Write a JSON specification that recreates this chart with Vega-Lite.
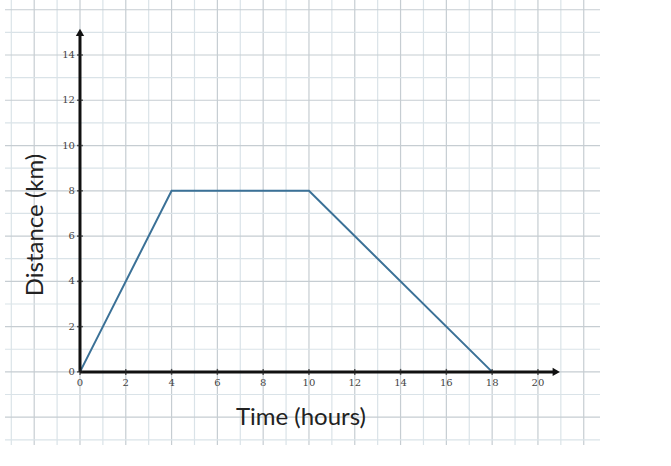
{
  "$schema": "https://vega.github.io/schema/vega-lite/v6.json",
  "autosize": "none",
  "width": 595,
  "height": 445,
  "padding": {"left": 5, "top": 0, "right": 0, "bottom": 0},
  "background": "white",
  "config": {"view": {"stroke": null}},
  "datasets": {
    "path": [
      {"x": 0, "y": 0},
      {"x": 4, "y": 8},
      {"x": 10, "y": 8},
      {"x": 18, "y": 0}
    ],
    "vgrid": [
      {"x": -3}, {"x": -2}, {"x": -1}, {"x": 0}, {"x": 1}, {"x": 2}, {"x": 3}, {"x": 4}, {"x": 5}, {"x": 6},
      {"x": 7}, {"x": 8}, {"x": 9}, {"x": 10}, {"x": 11}, {"x": 12}, {"x": 13}, {"x": 14}, {"x": 15}, {"x": 16},
      {"x": 17}, {"x": 18}, {"x": 19}, {"x": 20}, {"x": 21}, {"x": 22}
    ],
    "hgrid": [
      {"y": -3}, {"y": -2}, {"y": -1}, {"y": 0}, {"y": 1}, {"y": 2}, {"y": 3}, {"y": 4}, {"y": 5}, {"y": 6},
      {"y": 7}, {"y": 8}, {"y": 9}, {"y": 10}, {"y": 11}, {"y": 12}, {"y": 13}, {"y": 14}, {"y": 15}, {"y": 16}
    ],
    "axislines": [
      {"x": 0, "y": 0, "x2": 0, "y2": 15.0},
      {"x": 0, "y": 0, "x2": 20.8, "y2": 0}
    ],
    "arrows": [
      {"x": 0, "y": 15.0, "shape": "triangle-up"},
      {"x": 20.8, "y": 0, "shape": "triangle-right"}
    ],
    "xlabels": [
      {"x": 0, "y": 0, "label": "0"},
      {"x": 2, "y": 0, "label": "2"},
      {"x": 4, "y": 0, "label": "4"},
      {"x": 6, "y": 0, "label": "6"},
      {"x": 8, "y": 0, "label": "8"},
      {"x": 10, "y": 0, "label": "10"},
      {"x": 12, "y": 0, "label": "12"},
      {"x": 14, "y": 0, "label": "14"},
      {"x": 16, "y": 0, "label": "16"},
      {"x": 18, "y": 0, "label": "18"},
      {"x": 20, "y": 0, "label": "20"}
    ],
    "ylabels": [
      {"x": 0, "y": 0, "label": "0"},
      {"x": 0, "y": 2, "label": "2"},
      {"x": 0, "y": 4, "label": "4"},
      {"x": 0, "y": 6, "label": "6"},
      {"x": 0, "y": 8, "label": "8"},
      {"x": 0, "y": 10, "label": "10"},
      {"x": 0, "y": 12, "label": "12"},
      {"x": 0, "y": 14, "label": "14"}
    ],
    "titles": [
      {"x": 9.65, "y": -2.03, "label": "Time (hours)", "angle": 0},
      {"x": -1.92, "y": 6.49, "label": "Distance (km)", "angle": 270}
    ]
  },
  "layer": [
    {
      "data": {"name": "vgrid"},
      "mark": {"type": "rule", "strokeWidth": 1.2},
      "encoding": {
        "x": {
          "field": "x", "type": "quantitative",
          "scale": {"domain": [-3.275, 22.71], "nice": false, "zero": false},
          "axis": null
        },
        "color": {"condition": {"test": "datum.x % 2 === 0", "value": "#c6cdd2"}, "value": "#dae3e8"}
      }
    },
    {
      "data": {"name": "hgrid"},
      "mark": {"type": "rule", "strokeWidth": 1.2},
      "encoding": {
        "y": {
          "field": "y", "type": "quantitative",
          "scale": {"domain": [-3.23, 16.43], "nice": false, "zero": false},
          "axis": null
        },
        "color": {"condition": {"test": "datum.y % 2 === 0", "value": "#c6cdd2"}, "value": "#dae3e8"}
      }
    },
    {
      "data": {"name": "path"},
      "mark": {"type": "line", "color": "#3b7197", "strokeWidth": 2},
      "encoding": {
        "x": {"field": "x", "type": "quantitative"},
        "y": {"field": "y", "type": "quantitative"}
      }
    },
    {
      "data": {"name": "axislines"},
      "mark": {"type": "rule", "color": "#111111", "strokeWidth": 3},
      "encoding": {
        "x": {"field": "x", "type": "quantitative"},
        "y": {"field": "y", "type": "quantitative"},
        "x2": {"field": "x2"},
        "y2": {"field": "y2"}
      }
    },
    {
      "data": {"name": "arrows"},
      "mark": {"type": "point", "filled": true, "color": "#111111", "size": 70, "opacity": 1},
      "encoding": {
        "x": {"field": "x", "type": "quantitative"},
        "y": {"field": "y", "type": "quantitative"},
        "shape": {"field": "shape", "type": "nominal", "scale": null}
      }
    },
    {
      "data": {"name": "xlabels"},
      "mark": {"type": "tick", "orient": "vertical", "size": 6, "thickness": 1.5, "color": "#222222"},
      "encoding": {
        "x": {"field": "x", "type": "quantitative"},
        "y": {"field": "y", "type": "quantitative"}
      }
    },
    {
      "data": {"name": "ylabels"},
      "mark": {"type": "tick", "orient": "horizontal", "size": 6, "thickness": 1.5, "color": "#222222"},
      "encoding": {
        "x": {"field": "x", "type": "quantitative"},
        "y": {"field": "y", "type": "quantitative"}
      }
    },
    {
      "data": {"name": "xlabels"},
      "mark": {"type": "text", "dy": 11, "baseline": "middle", "align": "center", "font": "DejaVu Serif", "fontSize": 10, "color": "#444444"},
      "encoding": {
        "x": {"field": "x", "type": "quantitative"},
        "y": {"field": "y", "type": "quantitative"},
        "text": {"field": "label"}
      }
    },
    {
      "data": {"name": "ylabels"},
      "mark": {"type": "text", "dx": -5, "baseline": "middle", "align": "right", "font": "DejaVu Serif", "fontSize": 10, "color": "#444444"},
      "encoding": {
        "x": {"field": "x", "type": "quantitative"},
        "y": {"field": "y", "type": "quantitative"},
        "text": {"field": "label"}
      }
    },
    {
      "data": {"name": "titles"},
      "mark": {"type": "text", "baseline": "middle", "align": "center", "font": "Lato", "fontSize": 24, "color": "#222222"},
      "encoding": {
        "x": {"field": "x", "type": "quantitative"},
        "y": {"field": "y", "type": "quantitative"},
        "text": {"field": "label"},
        "angle": {"field": "angle", "type": "quantitative", "scale": null}
      }
    }
  ]
}
